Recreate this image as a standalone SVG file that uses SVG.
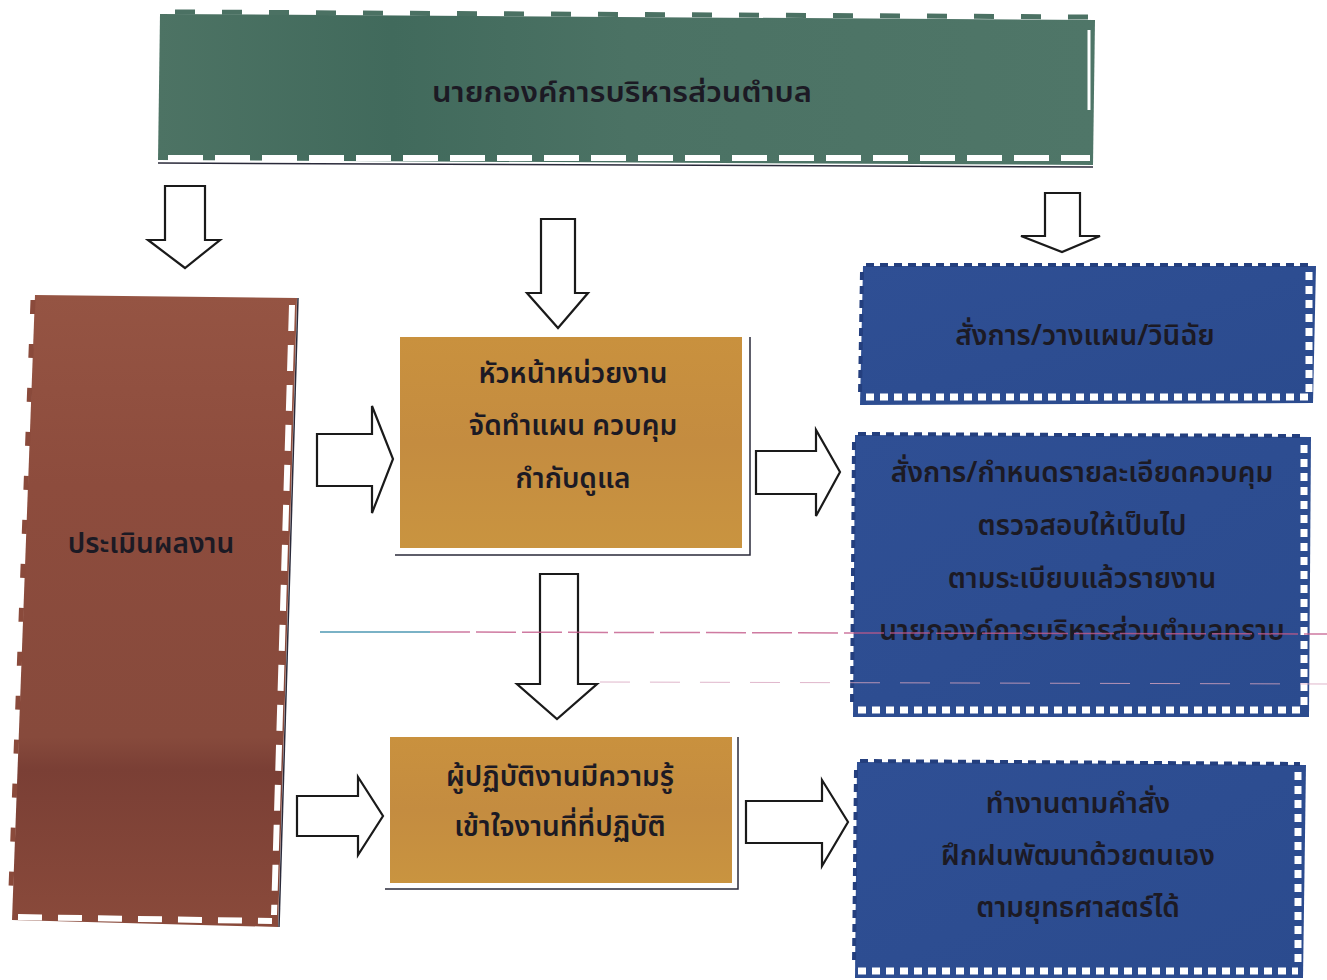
<svg xmlns="http://www.w3.org/2000/svg" width="1327" height="980" viewBox="0 0 1327 980">
<style>
.t{font-family:"Noto Sans Thai","Noto Sans Thai UI","Loma","Garuda","Tlwg Typo","DejaVu Sans","Noto Sans",sans-serif;fill:#1c1a24;text-anchor:middle;font-size:28px;font-weight:600}
.arrow{fill:#ffffff;stroke:#1a1a1a;stroke-width:2.2;stroke-linejoin:miter}
.wdash{fill:none;stroke:#ffffff}
.edge{fill:none;stroke:#2a2a3a;stroke-width:1.5}
.bnotch{fill:none;stroke:#243f7e;stroke-width:4;stroke-dasharray:8 6}
</style>
<defs>
<linearGradient id="gGreen" x1="0" y1="0" x2="1" y2="0">
<stop offset="0" stop-color="#4d7364"/><stop offset="0.25" stop-color="#416a5c"/><stop offset="0.5" stop-color="#4b7264"/><stop offset="1" stop-color="#4f7668"/>
</linearGradient>
<linearGradient id="gBrown" x1="0" y1="0" x2="0" y2="1">
<stop offset="0" stop-color="#955443"/><stop offset="0.3" stop-color="#8d4c3d"/><stop offset="0.7" stop-color="#874a3c"/><stop offset="0.75" stop-color="#7a3f35"/><stop offset="1" stop-color="#8a4a3b"/>
</linearGradient>
<linearGradient id="gGold" x1="0" y1="0" x2="0" y2="1">
<stop offset="0" stop-color="#c9913e"/><stop offset="0.5" stop-color="#c48c40"/><stop offset="1" stop-color="#c99440"/>
</linearGradient>
<linearGradient id="gBlue" x1="0" y1="0" x2="1" y2="1">
<stop offset="0" stop-color="#2f4f94"/><stop offset="1" stop-color="#2b4b8e"/>
</linearGradient>
</defs>
<rect width="1327" height="980" fill="#ffffff"/>

<g id="node-top">
<polygon points="160,14 1095,20 1093,165 158,160" fill="url(#gGreen)"/>
<line x1="175" y1="12" x2="1090" y2="17" stroke="#4b7163" stroke-width="5" stroke-dasharray="20 27"/>
<line class="wdash" x1="168" y1="158" x2="1090" y2="158" stroke-width="6" stroke-dasharray="35 12"/>
<line class="wdash" x1="1089" y1="30" x2="1089" y2="110" stroke-width="3"/>
<line class="edge" x1="158" y1="163" x2="1093" y2="167" stroke="#555" stroke-width="3"/>
<text class="t" x="622" y="102" font-size="32" textLength="380" lengthAdjust="spacingAndGlyphs">นายกองค์การบริหารส่วนตำบล</text>
</g>

<g id="node-evaluate">
<polygon points="35,295 297,298 278,927 12,920" fill="url(#gBrown)"/>
<line x1="33" y1="300" x2="10" y2="915" stroke="#8a4a3b" stroke-width="5" stroke-dasharray="14 30"/>
<line class="wdash" x1="292" y1="305" x2="274" y2="915" stroke-width="6" stroke-dasharray="26 14"/>
<line class="wdash" x1="18" y1="917" x2="272" y2="921" stroke-width="6" stroke-dasharray="24 16"/>
<line class="edge" x1="298" y1="298" x2="279" y2="927" stroke="#666"/>
<text class="t" x="151" y="553" font-size="27">ประเมินผลงาน</text>
</g>

<g id="node-head">
<rect x="400" y="337" width="342" height="211" fill="url(#gGold)"/>
<polyline class="edge" points="750,337 750,555 395,555" stroke="#777" stroke-width="2"/>
<text class="t" x="573" y="383" font-size="29">หัวหน้าหน่วยงาน</text>
<text class="t" x="573" y="435" font-size="29">จัดทำแผน  ควบคุม</text>
<text class="t" x="573" y="488" font-size="29">กำกับดูแล</text>
</g>

<g id="node-worker">
<rect x="390" y="737" width="342" height="146" fill="url(#gGold)"/>
<polyline class="edge" points="738,737 738,889 385,889" stroke="#777" stroke-width="2"/>
<text class="t" x="560" y="786" font-size="29">ผู้ปฏิบัติงานมีความรู้</text>
<text class="t" x="560" y="836" font-size="29">เข้าใจงานที่ที่ปฏิบัติ</text>
</g>

<g id="node-order1">
<polygon points="863,266 1316,266 1313,403 860,405" fill="url(#gBlue)"/>
<line class="bnotch" x1="866" y1="265" x2="1310" y2="265"/>
<line class="bnotch" x1="862" y1="272" x2="860" y2="395"/>
<line class="wdash" x1="866" y1="397" x2="1310" y2="397" stroke-width="7" stroke-dasharray="8 6"/>
<line class="wdash" x1="1309" y1="272" x2="1309" y2="395" stroke-width="7" stroke-dasharray="8 6"/>
<text class="t" x="1085" y="345">สั่งการ/วางแผน/วินิฉัย</text>
</g>

<g id="node-order2">
<polygon points="855,435 1311,437 1309,717 853,717" fill="url(#gBlue)"/>
<line class="bnotch" x1="858" y1="434" x2="1305" y2="436"/>
<line class="bnotch" x1="854" y1="442" x2="852" y2="705"/>
<line class="wdash" x1="858" y1="710" x2="1305" y2="710" stroke-width="7" stroke-dasharray="8 6"/>
<line class="wdash" x1="1304" y1="445" x2="1304" y2="705" stroke-width="7" stroke-dasharray="8 6"/>
<text class="t" x="1082" y="482">สั่งการ/กำหนดรายละเอียดควบคุม</text>
<text class="t" x="1082" y="535">ตรวจสอบให้เป็นไป</text>
<text class="t" x="1082" y="588">ตามระเบียบแล้วรายงาน</text>
<text class="t" x="1082" y="640">นายกองค์การบริหารส่วนตำบลทราบ</text>
</g>

<g id="node-order3">
<polygon points="857,762 1306,765 1303,978 855,978" fill="url(#gBlue)"/>
<line class="bnotch" x1="860" y1="761" x2="1300" y2="764"/>
<line class="bnotch" x1="856" y1="770" x2="854" y2="965"/>
<line class="wdash" x1="858" y1="971" x2="1298" y2="971" stroke-width="7" stroke-dasharray="8 6"/>
<line class="wdash" x1="1298" y1="772" x2="1298" y2="966" stroke-width="7" stroke-dasharray="8 6"/>
<text class="t" x="1078" y="813">ทำงานตามคำสั่ง</text>
<text class="t" x="1078" y="865">ฝึกฝนพัฒนาด้วยตนเอง</text>
<text class="t" x="1078" y="917">ตามยุทธศาสตร์ได้</text>
</g>

<g id="connectors">
<polygon class="arrow" points="165,186 205,186 205,240 220,240 185,268 148,240 165,240"/>
<polygon class="arrow" points="541,219 575,219 575,293 588,293 558,328 527,293 541,293"/>
<polygon class="arrow" points="1045,193 1080,193 1080,236 1100,236 1062,252 1021,236 1045,236"/>
<polygon class="arrow" points="317,434 372,434 372,406 393,459 372,513 372,486 317,486"/>
<polygon class="arrow" points="756,451 816,451 816,430 840,472 816,516 816,494 756,494"/>
<polygon class="arrow" points="540,574 578,574 578,684 597,684 557,719 517,684 540,684"/>
<polygon class="arrow" points="297,796 358,796 358,777 383,816 358,855 358,836 297,836"/>
<polygon class="arrow" points="746,801 822,801 822,780 848,822 822,866 822,843 746,843"/>
</g>

<g id="scan-lines" opacity="0.8">
<line x1="320" y1="632" x2="430" y2="632" stroke="#5aa0b8" stroke-width="2"/>
<line x1="430" y1="632" x2="1327" y2="634" stroke="#c45a8a" stroke-width="1.5" stroke-dasharray="40 6"/>
<line x1="600" y1="682" x2="1327" y2="684" stroke="#d9a6c0" stroke-width="1" stroke-dasharray="30 20"/>
</g>
</svg>
